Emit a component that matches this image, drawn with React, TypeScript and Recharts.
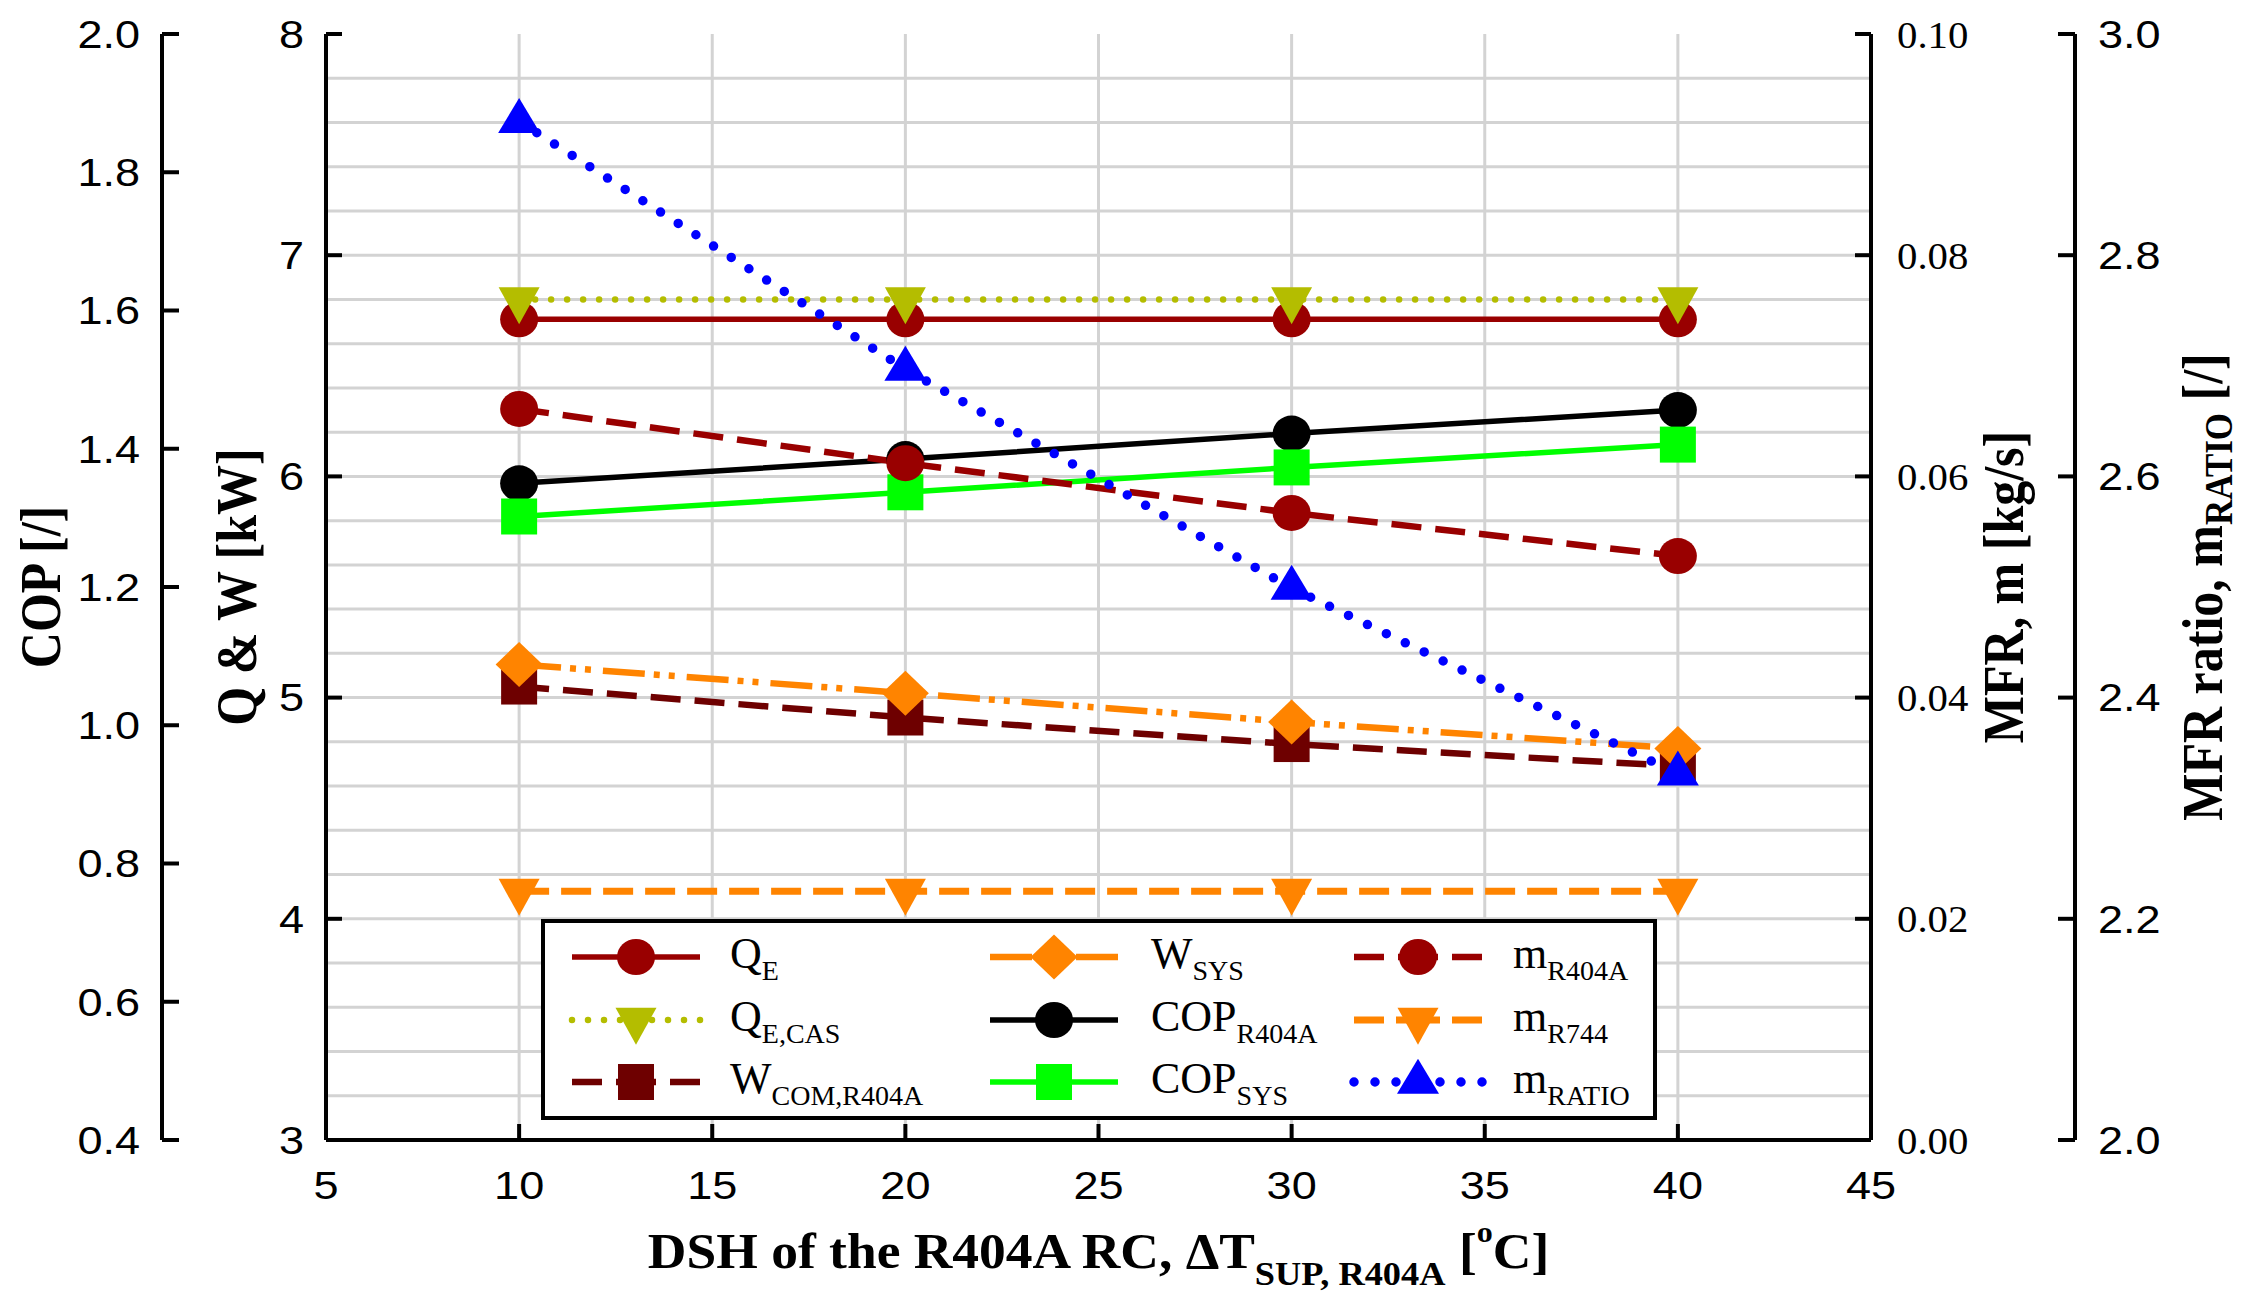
import React from "react";
import { ComposedChart, Line, XAxis, YAxis, CartesianGrid, Legend, ReferenceLine } from "recharts";

// DSH of the R404A RC [°C]
const dsh = [10, 20, 30, 40];

// Q & W axis [kW]
const qE = [6.71, 6.71, 6.71, 6.71];
const qECas = [6.8, 6.8, 6.8, 6.8];
const wComR404a = [5.05, 4.91, 4.79, 4.69];
const wSys = [5.15, 5.02, 4.89, 4.77];

// COP axis [/]
const copR404a = [1.35, 1.385, 1.422, 1.456];
const copSys = [1.302, 1.337, 1.373, 1.406];

// MFR axis [kg/s]
const mR404a = [0.0661, 0.0612, 0.0567, 0.0528];
const mR744 = [0.0225, 0.0225, 0.0225, 0.0225];

// MFR ratio axis [/]
const mRatio = [2.921, 2.697, 2.499, 2.331];

const xTicks = [5, 10, 15, 20, 25, 30, 35, 40, 45];
const qwTicks = [3, 4, 5, 6, 7, 8];
// minor horizontal grid, inside the frame (kW)
const qwGridLines = [
  3.2, 3.4, 3.6, 3.8, 4, 4.2, 4.4, 4.6, 4.8, 5, 5.2, 5.4, 5.6, 5.8,
  6, 6.2, 6.4, 6.6, 6.8, 7, 7.2, 7.4, 7.6, 7.8,
];
const copTicks = [0.4, 0.6, 0.8, 1.0, 1.2, 1.4, 1.6, 1.8, 2.0];
const mfrTicks = [0, 0.02, 0.04, 0.06, 0.08, 0.1];
const ratioTicks = [2.0, 2.2, 2.4, 2.6, 2.8, 3.0];

const rows = dsh.map((x, i) => ({
  dsh: x,
  qE: qE[i],
  qECas: qECas[i],
  wComR404a: wComR404a[i],
  wSys: wSys[i],
  copR404a: copR404a[i],
  copSys: copSys[i],
  mR404a: mR404a[i],
  mR744: mR744[i],
  mRatio: mRatio[i],
}));

// axis ids (sorted order decides stacking: first is next to the plot)
const QW = "y1qw";
const COP = "y2cop";
const MFR = "y3mfr";
const RATIO = "y4ratio";

type Shape = "circle" | "triDown" | "square" | "diamond" | "triUp";

const SERIES: {
  key: string; axis: string; label: string; sub: string; color: string;
  width: number; dash?: string; cap?: "round" | "butt"; shape: Shape;
}[] = [
  { key: "qE", axis: QW, label: "Q", sub: "E", color: "#990000", width: 5.5, shape: "circle" },
  { key: "qECas", axis: QW, label: "Q", sub: "E,CAS", color: "#B4BD00", width: 6.5, dash: "0 16", cap: "round", shape: "triDown" },
  { key: "wComR404a", axis: QW, label: "W", sub: "COM,R404A", color: "#6E0000", width: 6.5, dash: "30 14", shape: "square" },
  { key: "wSys", axis: QW, label: "W", sub: "SYS", color: "#FF8400", width: 6.5, dash: "42 9 6 9 6 12", shape: "diamond" },
  { key: "copR404a", axis: COP, label: "COP", sub: "R404A", color: "#000000", width: 5.5, shape: "circle" },
  { key: "copSys", axis: COP, label: "COP", sub: "SYS", color: "#00FF00", width: 5.5, shape: "square" },
  { key: "mR404a", axis: MFR, label: "m", sub: "R404A", color: "#990000", width: 6.5, dash: "30 14", shape: "circle" },
  { key: "mR744", axis: MFR, label: "m", sub: "R744", color: "#FF8400", width: 7, dash: "30 12", shape: "triDown" },
  { key: "mRatio", axis: RATIO, label: "m", sub: "RATIO", color: "#0000FF", width: 9.5, dash: "0 21", cap: "round", shape: "triUp" },
];

const SANS = "Liberation Sans, Arial, sans-serif";
const SERIF = "Liberation Serif, Times New Roman, serif";

function Marker({ shape, cx, cy, color }: { shape: Shape; cx: number; cy: number; color: string }) {
  switch (shape) {
    case "circle":
      return <ellipse cx={cx} cy={cy} rx={19} ry={18} fill={color} />;
    case "square":
      return <rect x={cx - 18} y={cy - 18} width={36} height={36} fill={color} />;
    case "diamond":
      return <polygon points={`${cx},${cy - 22.5} ${cx + 23.5},${cy} ${cx},${cy + 22.5} ${cx - 23.5},${cy}`} fill={color} />;
    case "triDown":
      return <polygon points={`${cx - 20.5},${cy - 12.3} ${cx + 20.5},${cy - 12.3} ${cx},${cy + 24.7}`} fill={color} />;
    case "triUp":
      return <polygon points={`${cx - 21},${cy + 11.7} ${cx + 21},${cy + 11.7} ${cx},${cy - 23.3}`} fill={color} />;
  }
  return null;
}

// tick label renderers (ticks point inward, labels outside)
const sansTick = (anchor: "start" | "middle" | "end", digits: number, vertical: "middle" | "top") =>
  (props: any) => {
    const { x, y, payload } = props;
    return (
      <text
        transform={`translate(${x},${y}) scale(1.17,1)`}
        textAnchor={anchor}
        dy={vertical === "middle" ? 13.8 : 27.6}
        fontFamily={SANS}
        fontSize={38.5}
        fill="#000"
      >
        {Number(payload.value).toFixed(digits)}
      </text>
    );
  };

const serifTick = (props: any) => {
  const { x, y, payload } = props;
  return (
    <text
      transform={`translate(${x},${y}) scale(1.06,1)`}
      textAnchor="start"
      dy={13.5}
      fontFamily={SERIF}
      fontSize={38.5}
      fill="#000"
    >
      {Number(payload.value).toFixed(2)}
    </text>
  );
};

// rotated axis titles, placed from the axis viewBox
const yTitle = (offset: number, main: string, sub?: string, tail?: string) => (props: any) => {
  const vb = props.viewBox;
  if (!vb) return null;
  const cx = vb.x + offset;
  const cy = vb.y + vb.height / 2;
  return (
    <text
      transform={`translate(${cx},${cy}) rotate(-90) scale(1,1.15)`}
      textAnchor="middle"
      fontFamily={SERIF}
      fontWeight="bold"
      fontSize={50}
      fill="#000"
    >
      {main}
      {sub ? <tspan fontSize={35} dy={9}>{sub}</tspan> : null}
      {tail ? <tspan dy={sub ? -9 : 0}>{tail}</tspan> : null}
    </text>
  );
};

const xTitle = (props: any) => {
  const vb = props.viewBox;
  if (!vb) return null;
  return (
    <text
      transform={`translate(${vb.x + vb.width / 2},${vb.y + 128}) scale(1.07,1)`}
      textAnchor="middle"
      fontFamily={SERIF}
      fontWeight="bold"
      fontSize={50}
      fill="#000"
    >
      DSH of the R404A RC, ΔT
      <tspan fontSize={34} dy={17}>SUP, R404A</tspan>
      <tspan dy={-17}> [</tspan>
      <tspan fontSize={30} dy={-26}>o</tspan>
      <tspan dy={26}>C]</tspan>
    </text>
  );
};

const LEG_W = 1116;
const LEG_H = 201;
const LEG_COL_X = [95, 513, 877];
const LEG_TEXT_X = [189, 610, 972];
const LEG_ROW_Y = [38, 101, 163];

function LegendBox() {
  return (
    <svg width={LEG_W} height={LEG_H} style={{ display: "block" }}>
      <rect x={2} y={2} width={LEG_W - 4} height={LEG_H - 4} fill="#fff" stroke="#000" strokeWidth={4} />
      {SERIES.map((s, i) => {
        const mx = LEG_COL_X[Math.floor(i / 3)];
        const tx = LEG_TEXT_X[Math.floor(i / 3)];
        const my = LEG_ROW_Y[i % 3];
        const lineProps = {
          stroke: s.color,
          strokeWidth: s.width,
          strokeDasharray: s.dash,
          strokeLinecap: s.cap ?? "butt",
        } as any;
        return (
          <g key={s.key}>
            <line x1={mx - 64} y1={my} x2={mx} y2={my} {...lineProps} />
            <line x1={mx + 64} y1={my} x2={mx} y2={my} {...lineProps} />
            <Marker shape={s.shape} cx={mx} cy={my} color={s.color} />
            <text x={tx} y={my + 11} fontFamily={SERIF} fontSize={44} fill="#000">
              {s.label}
              <tspan fontSize={28} dy={12}>{s.sub}</tspan>
            </text>
          </g>
        );
      })}
    </svg>
  );
}

const axisLine = { stroke: "#000", strokeWidth: 4 };
const tickLine = { stroke: "#000", strokeWidth: 4 };

export default function App() {
  return (
    <div style={{ position: "absolute", left: 0, top: 0, width: 2242, height: 1305, background: "#fff" }}>
      <ComposedChart width={2242} height={1305} data={rows} margin={{ top: 34, right: 0, bottom: 0, left: 0 }}>
        <CartesianGrid xAxisId="x" yAxisId={QW} horizontal={false} stroke="#D3D3D3" strokeWidth={3} />
        {qwGridLines.map((v) => (
          <ReferenceLine key={`g${v}`} xAxisId="x" yAxisId={QW} y={v} stroke="#D3D3D3" strokeWidth={3} />
        ))}
        <XAxis
          xAxisId="x"
          dataKey="dsh"
          type="number"
          domain={[5, 45]}
          ticks={xTicks}
          height={165}
          axisLine={axisLine}
          tickLine={tickLine}
          tickSize={-16}
          tickMargin={47}
          tick={sansTick("middle", 0, "top")}
          label={xTitle}
        />
        <XAxis
          xAxisId="top"
          orientation="top"
          type="number"
          domain={[5, 45]}
          height={0}
          tick={false}
          tickLine={false}
          axisLine={axisLine}
        />
        <YAxis
          yAxisId={QW}
          type="number"
          domain={[3, 8]}
          ticks={qwTicks}
          width={164}
          axisLine={axisLine}
          tickLine={tickLine}
          tickSize={-16}
          tickMargin={38}
          tick={sansTick("end", 0, "middle")}
          label={yTitle(94, "Q & W [kW]")}
        />
        <YAxis
          yAxisId={COP}
          type="number"
          domain={[0.4, 2.0]}
          ticks={copTicks}
          width={162}
          axisLine={axisLine}
          tickLine={tickLine}
          tickSize={-17}
          tickMargin={39}
          tick={sansTick("end", 1, "middle")}
          label={yTitle(60, "COP [/]")}
        />
        <YAxis
          yAxisId={MFR}
          orientation="right"
          type="number"
          domain={[0, 0.1]}
          ticks={mfrTicks}
          width={204}
          axisLine={axisLine}
          tickLine={tickLine}
          tickSize={-16}
          tickMargin={42}
          tick={serifTick}
          label={yTitle(152, "MFR, m [kg/s]")}
        />
        <YAxis
          yAxisId={RATIO}
          orientation="right"
          type="number"
          domain={[2, 3]}
          ticks={ratioTicks}
          width={167}
          axisLine={axisLine}
          tickLine={tickLine}
          tickSize={-17}
          tickMargin={40}
          tick={sansTick("start", 1, "middle")}
          label={yTitle(147, "MFR ratio, m", "RATIO", " [/]")}
        />
        {SERIES.map((s) => (
          <Line
            key={s.key}
            xAxisId="x"
            yAxisId={s.axis}
            dataKey={s.key}
            type="linear"
            stroke={s.color}
            strokeWidth={s.width}
            strokeDasharray={s.dash}
            strokeLinecap={s.cap ?? "butt"}
            dot={(p: any) => (
              <Marker key={`${s.key}-${p.index}`} shape={s.shape} cx={p.cx} cy={p.cy} color={s.color} />
            )}
            activeDot={false}
            legendType="none"
            isAnimationActive={false}
          />
        ))}
        <Legend
          layout="horizontal"
          verticalAlign="middle"
          align="center"
          content={() => <LegendBox />}
          wrapperStyle={{ position: "absolute", left: 541, top: 919, width: LEG_W, height: LEG_H }}
        />
      </ComposedChart>
    </div>
  );
}
